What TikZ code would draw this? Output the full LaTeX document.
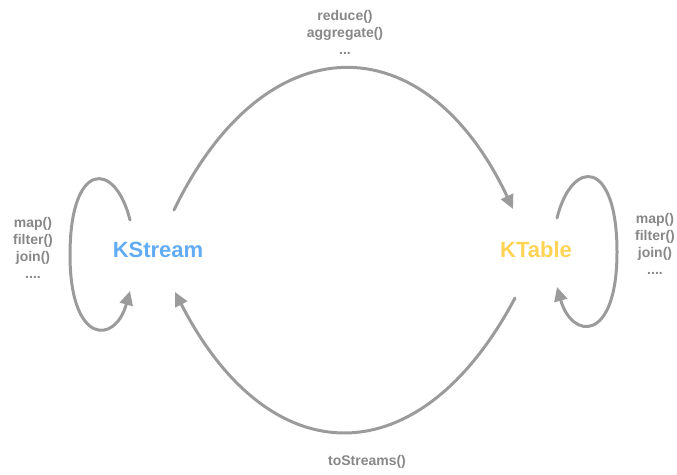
\documentclass[tikz,border=0pt]{standalone}
\usepackage{fontspec}
\setmainfont{Liberation Sans}
\usetikzlibrary{arrows.meta}
\definecolor{flowgray}{RGB}{155,155,155}
\definecolor{labelgray}{RGB}{135,135,135}
\definecolor{streamblue}{RGB}{98,172,246}
\definecolor{tableyellow}{RGB}{255,211,84}
\tikzset{
  flow/.style={draw=flowgray, line width=3pt, line cap=round,
    -{Triangle[length=14pt,width=13pt]}},
  oplabel/.style={text=labelgray, font=\bfseries\fontsize{14}{17}\selectfont, align=center, inner sep=0pt},
  entity/.style={font=\bfseries\fontsize{22}{26}\selectfont, inner sep=0pt}
}
\begin{document}
\begin{tikzpicture}[x=1pt,y=-1pt]
\useasboundingbox (0,0) rectangle (677,474);

% the two abstractions
\node[entity, text=streamblue] (ks) at (158,250) {KStream};
\node[entity, text=tableyellow] (kt) at (536,250) {KTable};

% end points of the connectors around each node
\coordinate (ksTop) at (174,210);
\coordinate (ksBot) at (175,292);
\coordinate (ktTop) at (513,209);
\coordinate (ktBot) at (515,298);
\coordinate (ksLoopOut) at (130,220);
\coordinate (ksLoopIn) at (130,291);
\coordinate (ktLoopOut) at (557,218);
\coordinate (ktLoopIn) at (557,287);

% stream -> table
\draw[flow] (ksTop) .. controls (265,22) and (425,22) .. (ktTop);
% table -> stream
\draw[flow, shorten >=0pt] (ktBot) .. controls (420,477) and (270,477) .. (ksBot);

% self loops
\draw[flow] (ksLoopOut) .. controls (115,160) and (70,160) .. (70,255)
  .. controls (70,345) and (115,345) .. (ksLoopIn);
\draw[flow] (ktLoopOut) .. controls (572,158) and (617,158) .. (617,252)
  .. controls (617,343) and (572,340) .. (ktLoopIn);

% operation labels
\node[oplabel] (topops) at (345,32) {reduce()\\aggregate()\\...};
\node[oplabel] (leftops) at (33,248) {map()\\filter()\\join()\\....};
\node[oplabel] (rightops) at (655,244) {map()\\filter()\\join()\\....};
\node[oplabel] (botops) at (367,462) {toStreams()};
\end{tikzpicture}
\end{document}
